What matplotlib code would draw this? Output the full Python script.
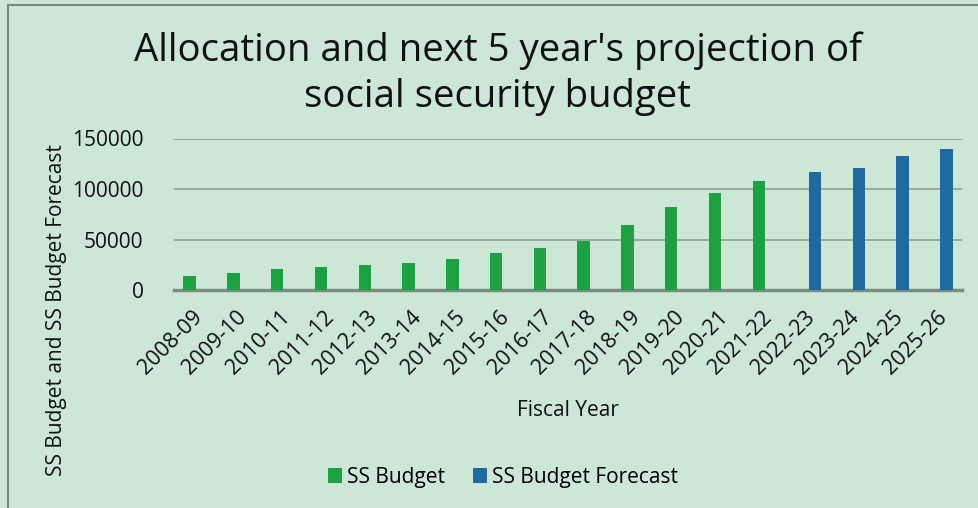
import matplotlib
matplotlib.use("Agg")
import matplotlib.pyplot as plt
import matplotlib.transforms as mtransforms
import numpy as np
from matplotlib.patches import Patch
from matplotlib.lines import Line2D

years = ["2008-09", "2009-10", "2010-11", "2011-12", "2012-13", "2013-14", "2014-15",
         "2015-16", "2016-17", "2017-18", "2018-19", "2019-20", "2020-21", "2021-22",
         "2022-23", "2023-24", "2024-25", "2025-26"]
budget = [14200, 17100, 21100, 22800, 24400, 26700, 31000, 36300, 41900, 48800,
          64700, 82200, 96000, 107900, 0, 0, 0, 0]
forecast = [0, 0, 0, 0, 0, 0, 0, 0, 0, 0, 0, 0, 0, 0, 117100, 120800, 132700, 139300]
yticks = [0, 50000, 100000, 150000]

BG = "#CCE7D5"
GREEN = "#1DA243"
BLUE = "#1F6B9F"
FONT = "Open Sans"
plt.rcParams['font.family'] = [FONT, 'DejaVu Sans']

fig = plt.figure(figsize=(9.79, 5.08), dpi=100, facecolor=BG)
ax = fig.add_axes([174/979, 1-290/508, (962-174)/979, (290-138.5)/508])
ax.set_facecolor(BG)

x = np.arange(len(years))
w = 0.285
ax.bar(x - w/2, budget, width=w, color=GREEN, zorder=3)
ax.bar(x + w/2, forecast, width=w, color=BLUE, zorder=3)

ax.set_xlim(-0.5, len(years) - 0.5)
ax.set_ylim(0, 150000)
ax.set_yticks(yticks)
ax.set_yticklabels([str(v) for v in yticks], fontsize=15, color="#111111")
ax.yaxis.grid(True, color="#8E9F94", linewidth=1.2, zorder=0)
ax.set_axisbelow(True)
for s in ["left", "right", "top"]:
    ax.spines[s].set_visible(False)
ax.spines["bottom"].set_color("#7A8B80")
ax.spines["bottom"].set_linewidth(2.5)
ax.tick_params(axis='y', length=0, pad=22)
ax.tick_params(axis='x', length=0, pad=12)
ax.set_xticks(x)
ax.set_xticklabels(years, rotation=45, ha='right', va='top', rotation_mode='anchor',
                   fontsize=15.5, color="#111111")
shift = mtransforms.ScaledTranslation(-4/100, 0, fig.dpi_scale_trans)
for lbl in ax.get_xticklabels():
    lbl.set_transform(lbl.get_transform() + shift)

ax.set_xlabel("Fiscal Year", fontsize=15, color="#111111", labelpad=15)
fig.text(57/979, 1-310/508, "SS Budget and SS Budget Forecast", rotation=90,
         ha='center', va='center', fontsize=15, color="#111111")

fig.text(498/979, 1-106.7/508, "Allocation and next 5 year's projection of\nsocial security budget",
         ha='center', va='baseline', fontsize=27.6, linespacing=1.25, color="#111111")

handles = [Patch(facecolor=GREEN, label="SS Budget"), Patch(facecolor=BLUE, label="SS Budget Forecast")]
fig.legend(handles=handles, loc='center', bbox_to_anchor=(503/979, 1-477/508), ncol=2,
           frameon=False, fontsize=15, handlelength=0.7, handleheight=0.7,
           handletextpad=0.25, columnspacing=1.3)

# outer frame (left and top)
fig.add_artist(Line2D([8/979, 8/979], [0, 1-5/508], transform=fig.transFigure, color="#7A8B80", linewidth=1.5))
fig.add_artist(Line2D([8/979, 1], [1-5/508, 1-5/508], transform=fig.transFigure, color="#7A8B80", linewidth=1.5))

fig.savefig("out.png", dpi=100, facecolor=BG)
